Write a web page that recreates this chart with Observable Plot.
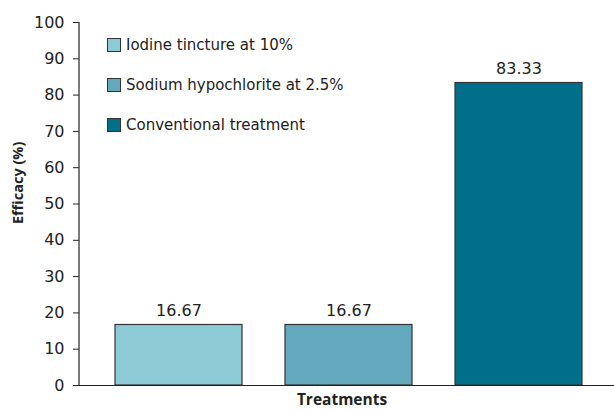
<!DOCTYPE html>
<html>
<head>
<meta charset="utf-8">
<script src="https://cdn.jsdelivr.net/npm/d3@7"></script>
<script src="https://cdn.jsdelivr.net/npm/@observablehq/plot@0.6"></script>
<style>
  html, body { margin: 0; padding: 0; background: #fff; }
  #wrap { position: relative; width: 614px; height: 410px; font-family: "DejaVu Sans", sans-serif; }
  #legend { position: absolute; left: 107px; top: 35px; font-size: 15px; color: #222; }
  .item { display: flex; align-items: center; height: 20px; margin-bottom: 20px; }
  .sw { width: 12px; height: 12px; border: 1px solid #333; margin-right: 5px; }
</style>
</head>
<body>
<div id="wrap"><div id="legend"></div></div>
<script>
const treatments = ["Iodine tincture at 10%", "Sodium hypochlorite at 2.5%", "Conventional treatment"];
const efficacy = [16.67, 16.67, 83.33];
const colors = ["#8ccbd6", "#63a8bd", "#00708a"];
const yTicks = [0, 10, 20, 30, 40, 50, 60, 70, 80, 90, 100];

const data = treatments.map((t, i) => ({treatment: t, value: efficacy[i]}));

const chart = Plot.plot({
  width: 614,
  height: 410,
  marginLeft: 79,
  marginRight: 0,
  marginTop: 22,
  marginBottom: 25,
  style: {fontFamily: "'DejaVu Sans', sans-serif", fontSize: "16px", color: "#222", background: "#fff"},
  x: {domain: treatments, range: [83, 614], paddingInner: 0.253, paddingOuter: 0.188, axis: null},
  y: {domain: [0, 100], ticks: yTicks},
  color: {domain: treatments, range: colors},
  marks: [
    Plot.barY(data, {x: "treatment", y: "value", fill: "treatment", stroke: "#333", strokeWidth: 1.2}),
    Plot.text(data, {x: "treatment", y: "value", text: d => d.value.toFixed(2), dy: -14, fontSize: 16, fill: "#222"}),
    Plot.axisY({ticks: yTicks, tickSize: 6, tickPadding: 9, stroke: "#222", strokeOpacity: 1, fontSize: 16, label: null}),
    Plot.ruleY([0], {stroke: "#222", strokeWidth: 1.2}),
    Plot.text(["Treatments"], {frameAnchor: "bottom", dx: -5, dy: 19, fontFamily: "'Open Sans', sans-serif", fontWeight: "bold", fontSize: 15.5, fill: "#222"}),
    Plot.text(["Efficacy (%)"], {frameAnchor: "left", dx: -61, dy: 20, rotate: -90, fontFamily: "'Open Sans', sans-serif", fontWeight: "bold", fontSize: 14.5, fill: "#222"})
  ]
});
const wrap = document.getElementById("wrap");
wrap.insertBefore(chart, wrap.firstChild);

// y-axis line
const svg = d3.select(chart);
svg.append("line").attr("x1", 79).attr("x2", 79).attr("y1", 22).attr("y2", 385).attr("stroke", "#222").attr("stroke-width", 1.2);

const legend = document.getElementById("legend");
treatments.forEach((t, i) => {
  const it = document.createElement("div");
  it.className = "item";
  it.innerHTML = `<span class="sw" style="background:${colors[i]}"></span><span>${t}</span>`;
  legend.appendChild(it);
});
</script>
</body>
</html>
